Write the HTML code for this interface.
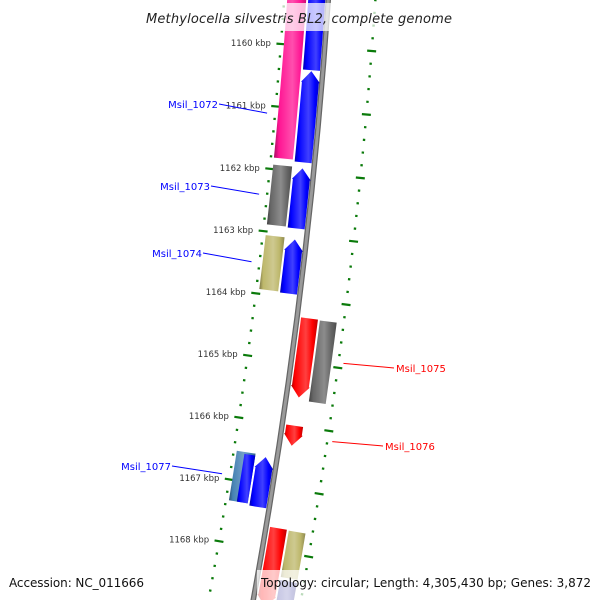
<!DOCTYPE html>
<html><head><meta charset="utf-8"><style>
html,body{margin:0;padding:0;background:#fff;overflow:hidden}
svg{display:block}
text{font-family:"DejaVu Sans","Liberation Sans",sans-serif}
</style></head><body>
<svg id="map" width="600" height="600" viewBox="0 0 600 600">
<defs>
<clipPath id="clip"><rect x="0" y="0" width="600" height="600"/></clipPath>
</defs>
<g id="features" clip-path="url(#clip)"></g>
<g id="labels" clip-path="url(#clip)"></g>
<rect x="140" y="3" width="320" height="28" fill="#fff" fill-opacity="0.72"/>
<text x="299" y="23" text-anchor="middle" font-size="13" font-style="italic" fill="#222" textLength="306">Methylocella silvestris BL2, complete genome</text>
<text x="9" y="587" font-size="12" fill="#111" textLength="135">Accession: NC_011666</text>
<rect x="257" y="570" width="343" height="30" fill="#fff" fill-opacity="0.72"/>
<text x="261" y="587" font-size="12" fill="#111" textLength="330">Topology: circular; Length: 4,305,430 bp; Genes: 3,872</text>
</svg>
<script>
// data arrays
const geneStarts = [1158980,1161928,1163060,1166530,1166560,1159000,1160393,1161942,1163077,1166560,1164290,1166000,1167640,1164300,1167650,1168440];
const geneEnds   = [1161816,1162887,1163925,1167330,1167330,1160377,1161846,1162900,1163940,1167360,1165550,1166320,1168900,1165590,1168390,1168900];
const geneLanes  = ['LO','LO','LO','LO','LOi','LI','LI','LI','LI','LI','RI','RI','RI','RO','RO','RO'];
const geneColors = ['#ff1493','#666666','#bdb76b','#4682b4','#0000ff','#0000ff','#0000ff','#0000ff','#0000ff','#0000ff','#ff0000','#ff0000','#ff0000','#666666','#bdb76b','#3a3aa0'];
const geneArrows = ['none','none','none','none','none','up','up','up','up','up','down','down','down','none','none','none'];
const tickKbp = [1160,1161,1162,1163,1164,1165,1166,1167,1168];
const tickLabels = ['1160 kbp','1161 kbp','1162 kbp','1163 kbp','1164 kbp','1165 kbp','1166 kbp','1167 kbp','1168 kbp'];
const geneNames = ['Msil_1072','Msil_1073','Msil_1074','Msil_1077','Msil_1075','Msil_1076'];
const geneNameIdx = [6,7,8,3,10,11];

const NS='http://www.w3.org/2000/svg';
const CX=-5082, CY=-371.6, R0=5423;
const A0=4.431, DPK=0.6674;
function ang(bp){return (A0+(bp-1160000)/1000*DPK)*Math.PI/180;}
function pt(bp,off){const a=ang(bp),r=R0+off;return [CX+r*Math.cos(a),CY+r*Math.sin(a)];}
const lanes={LO:[-41,-22],LOi:[-33,-22],LI:[-20,-3],RI:[4,21],RO:[23,40]};
const fl=document.getElementById('features');
const ll=document.getElementById('labels');
function mk(tag,attrs,parent){const e=document.createElementNS(NS,tag);for(const k in attrs)e.setAttribute(k,attrs[k]);parent.appendChild(e);return e;}
function shade(c,f){const n=parseInt(c.slice(1),16);let r=n>>16,g=(n>>8)&255,b=n&255;
 if(f>0){r+=(255-r)*f;g+=(255-g)*f;b+=(255-b)*f;}else{r*=1+f;g*=1+f;b*=1+f;}
 return 'rgb('+[r,g,b].map(v=>Math.round(v)).join(',')+')';}
const defs=document.querySelector('defs');

const rings=[-44,47];
for(let bp=1158600;bp<=1169200;bp+=200){
 const major=(bp%1000===0);
 for(const rr of rings){
  const h=major?4.5:1.2;
  const p1=pt(bp,rr-h),p2=pt(bp,rr+h);
  const l=mk('line',{x1:p1[0],y1:p1[1],x2:p2[0],y2:p2[1],stroke:'#0a7a0a','stroke-width':2.2},fl);
  
  
 }
}
{const a=pt(1158500,0),b=pt(1169500,0);
 const d='M'+a[0]+' '+a[1]+' A'+R0+' '+R0+' 0 0 1 '+b[0]+' '+b[1];
 const p=mk('path',{d:d,fill:'none',stroke:'#666','stroke-width':5.5},fl);
 
 
 const p2=mk('path',{d:d,fill:'none',stroke:'#9a9a9a','stroke-width':3},fl);
 
 }

geneStarts.forEach((s,i)=>{
 const e=geneEnds[i],[r1,r2]=lanes[geneLanes[i]],col=geneColors[i],arr=geneArrows[i];
 const gid='g'+i;
 const gr=mk('linearGradient',{id:gid,x1:0,y1:0,x2:1,y2:0},defs);
 [[0,shade(col,-0.35)],[0.15,col],[0.55,shade(col,0.25)],[0.8,col],[1,shade(col,-0.25)]].forEach(([o,c])=>mk('stop',{offset:o,'stop-color':c},gr));
 const head=180, mid=(r1+r2)/2;
 let pts=[];
 const steps=12;
 let a=s,b=e;
 if(arr==='up')a=s+head;
 if(arr==='down')b=e-head;
 for(let k=0;k<=steps;k++)pts.push(pt(a+(b-a)*k/steps,r1));
 if(arr==='down'){pts.push(pt(b,r1-1));pts.push(pt(e,mid));pts.push(pt(b,r2+1));}
 for(let k=steps;k>=0;k--)pts.push(pt(a+(b-a)*k/steps,r2));
 if(arr==='up'){pts.push(pt(a,r2+1));pts.push(pt(s,mid));pts.push(pt(a,r1-1));}
 const poly=mk('polygon',{points:pts.map(p=>p[0].toFixed(2)+','+p[1].toFixed(2)).join(' '),fill:'url(#'+gid+')'},fl);
 
 
});

tickKbp.forEach((k,i)=>{
 const p=pt(k*1000,-54);
 const t=mk('text',{x:p[0],y:p[1]+3,'text-anchor':'end','font-size':8.5,fill:'#333'},ll);
 t.textContent=tickLabels[i];
 
 
});

const labelPos=[[218,108,'l'],[210,190,'l'],[202,257,'l'],[171,470,'l'],[396,372,'r'],[385,450,'r']];
geneNames.forEach((n,i)=>{
 const gi=geneNameIdx[i];
 const bp=(geneStarts[gi]+geneEnds[gi])/2;
 const right=labelPos[i][2]==='r';
 const p=pt(bp,right?52:-52);
 const lx=right?labelPos[i][0]-2:labelPos[i][0]+1;
 const ln=mk('line',{x1:lx,y1:labelPos[i][1]-4,x2:p[0],y2:p[1],stroke:right?'#f00':'#00f','stroke-width':1},ll);
 
 
 const t=mk('text',{x:labelPos[i][0],y:labelPos[i][1],'text-anchor':right?'start':'end','font-size':10,fill:right?'#f00':'#00f'},ll);
 t.textContent=n;
 
 
});
</script>
</body></html>
